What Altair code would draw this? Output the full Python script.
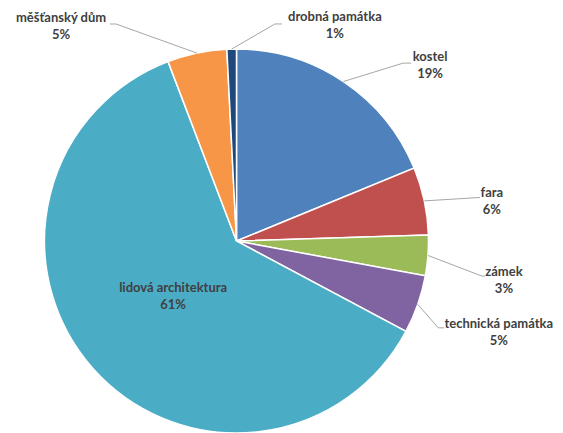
import math
import altair as alt
import pandas as pd

# ---- data ----
categories = ["kostel", "fara", "zámek", "technická památka",
              "lidová architektura", "měšťanský dům", "drobná památka"]
shares = [18.8, 5.7, 3.4, 4.9, 61.4, 5.0, 0.8]
colors = ["#4F81BD", "#C0504D", "#9BBB59", "#8064A2",
          "#4BACC6", "#F79646", "#1F497D"]

# ---- layout ----
W, H = 547, 425
CX, CY = 228.5, 233.0
R = 192
LINE_H = 17
# label centre offset from the slice edge point at mid-angle
label_offset = {
    "kostel": (86.7, -15.9),
    "fara": (67.6, 0.6),
    "zámek": (76.0, 24.6),
    "technická památka": (81.0, 28.5),
    "měšťanský dům": (-135.9, -27.1),
    "drobná památka": (103.2, -23.1),
}
inside_frac = {"lidová architektura": 0.44}
# leader line end offset from edge point, and its horizontal elbow length
line_end = {
    "kostel": ((67.7, -18.4), 8),
    "fara": ((55.6, -3.4), 0),
    "zámek": ((57.0, 20.6), 3),
    "technická památka": ((26.5, 23.5), 6),
    "měšťanský dům": ((-86.9, -29.1), 6),
    "drobná památka": ((50.2, -25.1), 7),
}

total = sum(shares)
df = pd.DataFrame({"category": categories, "share": shares,
                   "idx": list(range(len(categories)))})

rows_lbl, rows_line = [], []
cum = 0.0
for c, s in zip(categories, shares):
    mid = (cum + s / 2) / total * 2 * math.pi
    cum += s
    ex, ey = CX + R * math.sin(mid), CY - R * math.cos(mid)
    txt = f"{c}\n{round(s / total * 100)}%"
    if c in inside_frac:
        f = inside_frac[c]
        lx, ly = CX + f * R * math.sin(mid), CY - f * R * math.cos(mid)
    else:
        dx, dy = label_offset[c]
        lx, ly = ex + dx, ey + dy
        (ox, oy), el = line_end[c]
        px, py = ex + ox, ey + oy
        sign = 1 if ox > 0 else -1
        rows_line += [
            {"category": c, "o": 0, "x": ex, "y": ey},
            {"category": c, "o": 1, "x": px - sign * el, "y": py},
            {"category": c, "o": 2, "x": px, "y": py},
        ]
    # first line is anchored at y, so move up by half a line to centre the block
    rows_lbl.append({"category": c, "text": txt, "x": lx, "y": ly - LINE_H / 2})

lbl = pd.DataFrame(rows_lbl)
lines = pd.DataFrame(rows_line)

pie = alt.Chart(df).mark_arc(outerRadius=R, stroke="white", strokeWidth=1.5).encode(
    theta=alt.Theta("share:Q", stack=True),
    color=alt.Color("category:N", scale=alt.Scale(domain=categories, range=colors), legend=None),
    order=alt.Order("idx:Q"),
    x=alt.value(CX),
    y=alt.value(CY),
)

leaders = alt.Chart(lines).mark_line(color="#a6a6a6", strokeWidth=1).encode(
    x=alt.X("x:Q", scale=None),
    y=alt.Y("y:Q", scale=None),
    detail="category:N",
    order="o:Q",
)

labels = alt.Chart(lbl).mark_text(
    font="Lato", fontSize=13, fontWeight="bold", color="#404040",
    lineBreak="\n", lineHeight=LINE_H, align="center", baseline="middle",
).encode(
    x=alt.X("x:Q", scale=None),
    y=alt.Y("y:Q", scale=None),
    text="text:N",
)

chart = alt.layer(pie, leaders, labels).properties(
    width=W, height=H, autosize=alt.AutoSizeParams(type="none"), padding=0,
).configure_view(stroke=None)

chart.save("out.html", embed_options={"renderer": "svg", "actions": False})
